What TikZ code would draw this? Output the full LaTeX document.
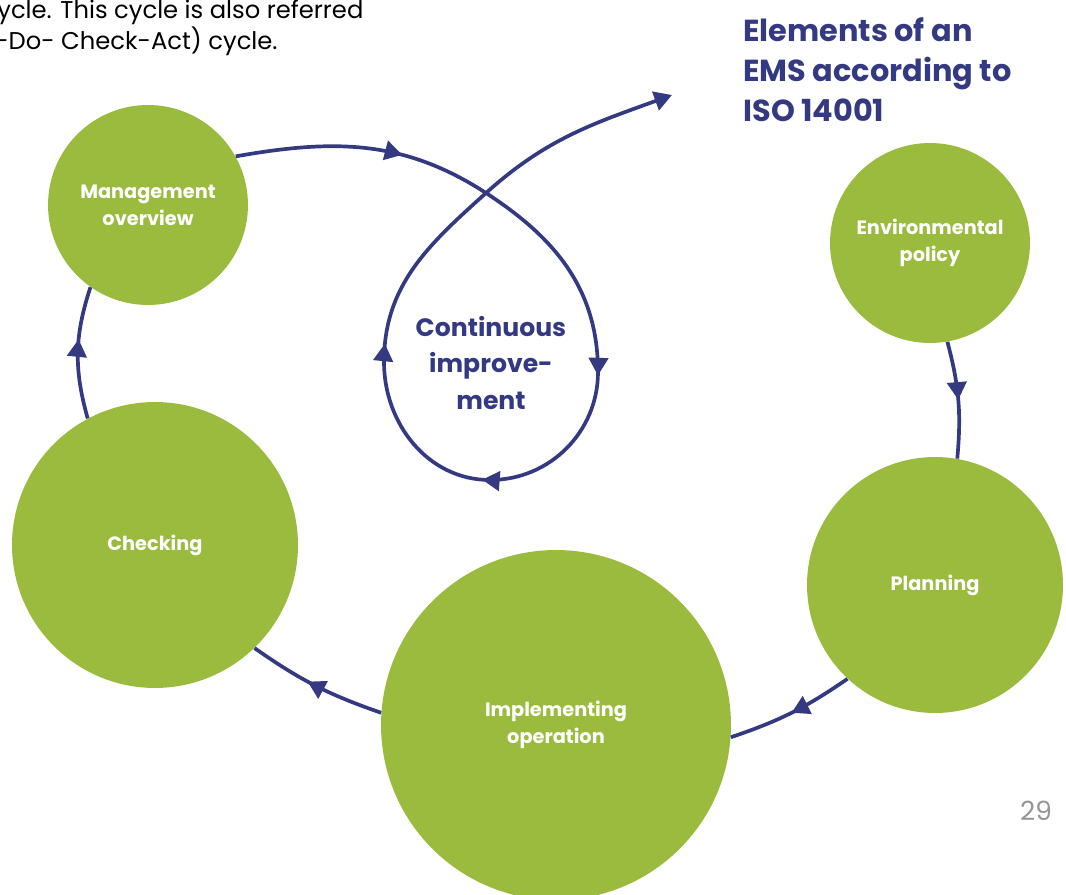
\documentclass[tikz,border=0pt]{standalone}
\usepackage{fontspec}
\setmainfont{Poppins}
\usetikzlibrary{arrows.meta,decorations.markings}

\definecolor{emsgreen}{RGB}{155,187,62}
\definecolor{emsblue}{RGB}{52,58,130}
\definecolor{pagegrey}{RGB}{150,150,150}

\tikzset{
  element/.style={circle, fill=emsgreen, text=white, align=center, inner sep=0pt,
    font=\fontsize{11}{15.5}\selectfont\bfseries},
  flow/.style={draw=emsblue, line width=2.1pt},
  midarrow/.style={postaction={decorate}, decoration={markings,
    mark=at position #1 with {\arrow{Triangle[length=10pt,width=11pt]}}}}
}

\begin{document}
\begin{tikzpicture}[x=0.02cm,y=-0.02cm]
  \useasboundingbox (0,0) rectangle (1066,895);
  \clip (0,0) rectangle (1066,895);

  % text from the page
  \node[anchor=base west, inner sep=0pt, font=\fontsize{13.8}{16}\selectfont] (intro1) at (-3,19) {ycle. This cycle is also referred};
  \node[anchor=base west, inner sep=0pt, font=\fontsize{13.8}{16}\selectfont] (intro2) at (-5,50) {-Do- Check-Act) cycle.};
  \node[anchor=north west, inner sep=0pt, align=left, text=emsblue,
    font=\fontsize{17.3}{22.8}\selectfont\bfseries] (title) at (743,17) {Elements of an\\EMS according to\\ISO 14001};
  \node[text=pagegrey, font=\fontsize{15}{18}\selectfont] (page) at (1036,811) {29};

  % the five elements
  \node[element, minimum size=4cm] (mgmt) at (148,205) {Management\\overview};
  \node[element, minimum size=4cm] (policy) at (930,243) {Environmental\\policy};
  \node[element, minimum size=5.12cm] (planning) at (935,585) {Planning};
  \node[element, minimum size=7cm] (impl) at (556,725) {Implementing\\operation};
  \node[element, minimum size=5.72cm] (checking) at (155,545) {Checking};

  % the cycle
  \draw[flow, midarrow=0.5] (policy.-80) to[bend left=10] (planning.80);
  \draw[flow, midarrow=0.5] (planning.-133) to[bend left=8] (impl.-4);
  \draw[flow, midarrow=0.56] (impl.176) to[bend left=8] (checking.-46);
  \draw[flow, midarrow=0.6] (checking.118) to[bend left=17] (mgmt.-125);

  % continuous improvement loop
  \coordinate (cross) at (486,193);
  \coordinate (right) at (598,372);
  \coordinate (bottom) at (490,480);
  \coordinate (left) at (384,362);
  \coordinate (exit) at (672,95);
  \draw[flow, -{Triangle[length=10pt,width=11pt]}, postaction={decorate},
    decoration={markings,
      mark=at position 0.135 with {\arrow{Triangle[length=10pt,width=11pt]}},
      mark=at position 0.39 with {\arrow{Triangle[length=10pt,width=11pt]}},
      mark=at position 0.53 with {\arrow{Triangle[length=10pt,width=11pt]}},
      mark=at position 0.68 with {\arrow{Triangle[length=10pt,width=11pt]}}}]
    (mgmt.29) to[out=10,in=147] (cross) to[out=-33,in=90] (right)
    to[out=-90,in=0] (bottom) to[out=180,in=-90] (left)
    to[out=90,in=222] (cross) to[out=42,in=200] (exit);
  \node[text=emsblue, align=center, font=\fontsize{14.3}{21}\selectfont\bfseries] (ci) at (491,363) {Continuous\\improve-\\ment};
\end{tikzpicture}
\end{document}
